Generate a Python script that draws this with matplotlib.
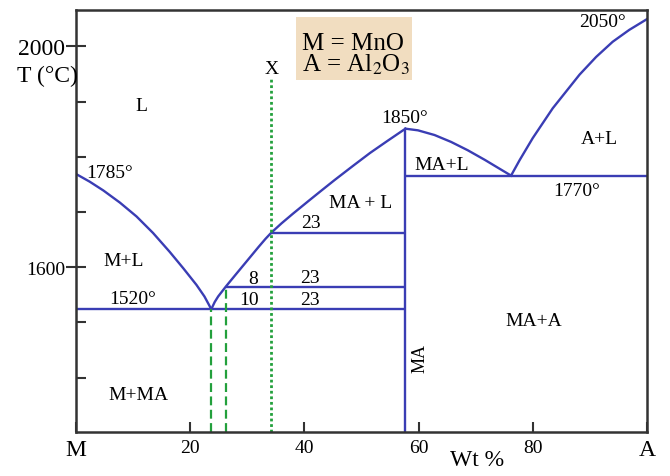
import matplotlib
matplotlib.use('Agg')
from matplotlib import pyplot as plt
from matplotlib.patches import Rectangle

plt.rcParams['font.family'] = ['Liberation Serif', 'DejaVu Serif']
plt.rcParams['mathtext.fontset'] = 'stix'

# phase boundaries: wt % Al2O3, T in degC
liq_m_x = [0, 2.4, 4.8, 7.7, 10.6, 13.5, 16.4, 18.8, 21.1, 22.5, 23.7]
liq_m_t = [1769, 1755, 1739, 1717, 1692, 1662, 1628, 1598, 1568, 1547, 1524]

liq_ma_left_x = [23.7, 24.3, 24.9, 26.25, 28, 30, 32, 33.2, 34.2, 36, 38, 40.9,
                 43, 45.3, 48.5, 51.5, 54.5, 57.7]
liq_ma_left_t = [1524, 1537, 1547, 1565, 1587, 1612, 1637, 1651.5, 1662.5, 1679.5,
                 1697, 1721.5, 1739, 1758, 1783.5, 1807, 1828.5, 1851]

liq_ma_right_x = [57.7, 59.9, 62.8, 65.7, 68.6, 71.6, 74.5, 76.2]
liq_ma_right_t = [1851, 1848, 1839.5, 1827, 1812, 1794.5, 1776.5, 1766]

liq_a_x = [76.2, 77.7, 80.0, 83.5, 88.2, 91.1, 94.0, 96.9, 100]
liq_a_t = [1766, 1794, 1834, 1888, 1949, 1981, 2008.5, 2030, 2049.5]

eut1_t = 1524
eut1_x = 23.7
eut2_t = 1766
ma_x = 57.7
tie_lo = (26.25, 1565)
tie_hi = (34.2, 1662.5)
x_top = 1944

labels = [
    ('L', 11.5, 1893), ('1785°', 5.9, 1772), ('M+L', 8.3, 1612),
    ('1520°', 10.0, 1543), ('M+MA', 10.9, 1370), ('8', 31.0, 1579),
    ('10', 30.3, 1542), ('23', 41.0, 1581), ('23', 41.0, 1541),
    ('23', 41.1, 1681), ('MA + L', 49.8, 1718), ('1850°', 57.6, 1872),
    ('MA+L', 64.0, 1787), ('1770°', 87.7, 1739), ('2050°', 92.3, 2045),
    ('A+L', 91.7, 1833), ('MA+A', 80.2, 1503), ('X', 34.2, 1960),
]

ymin, ymax = 1302, 2066
blue = '#3a3db4'
green = '#23a03c'

fig = plt.figure(figsize=(6.7, 4.77), dpi=100)
ax = fig.add_axes([0.1134, 0.0929, 0.8522, 0.884])

lw = 1.7
ax.plot(liq_m_x, liq_m_t, color=blue, lw=lw)
ax.plot(liq_ma_left_x, liq_ma_left_t, color=blue, lw=lw)
ax.plot(liq_ma_right_x, liq_ma_right_t, color=blue, lw=lw)
ax.plot(liq_a_x, liq_a_t, color=blue, lw=lw)

ax.hlines(eut1_t, 0, ma_x, color=blue, lw=lw)
ax.hlines(eut2_t, ma_x, 100, color=blue, lw=lw)
ax.hlines([tie_lo[1], tie_hi[1]], [tie_lo[0], tie_hi[0]], ma_x, color=blue, lw=lw)
ax.vlines(ma_x, ymin, liq_ma_left_t[-1], color=blue, lw=lw)

ax.vlines([eut1_x, tie_lo[0]], ymin, [eut1_t, tie_lo[1]], color=green, lw=1.6,
          linestyles=[(0, (4, 2))])
ax.vlines(tie_hi[0], ymin, x_top, color=green, lw=2, linestyles=[(0, (1, 1))])

for s, x, y in labels:
    ax.text(x, y, s, fontsize=14, ha='center', va='center')
ax.text(60.2, 1437, 'MA', fontsize=13, rotation=90, ha='center', va='center')

# key box
ax.add_patch(Rectangle((38.5, 1939.6), 20.4, 113.7, fc='#f1ddc0', ec='none', zorder=1))
ax.text(39.5, 1996, 'M = MnO', fontsize=18, ha='left', va='baseline', zorder=2)
ax.text(39.5, 1956.5, 'A = Al$_2$O$_3$', fontsize=18, ha='left', va='baseline', zorder=2)

ax.set_xlim(0, 100)
ax.set_ylim(ymin, ymax)

ax.set_xticks([0, 20, 40, 60, 80, 100])
ax.set_xticklabels(['M', '20', '40', '60', '80', 'A'])
for i, lab in enumerate(ax.get_xticklabels()):
    lab.set_fontsize(17 if i in (0, 5) else 14)
ax.tick_params(axis='x', direction='in', length=7, width=1.5, color='#333333', pad=5)

ax.set_yticks([1600, 2000])
ax.set_yticklabels(['1600', '2000'])
ax.get_yticklabels()[0].set_fontsize(14)
ax.get_yticklabels()[1].set_fontsize(17)
ax.set_yticks([1400, 1500, 1700, 1800, 1900], minor=True)
ax.tick_params(axis='y', which='major', direction='inout', length=14, width=1.5,
               color='#333333', pad=1)
ax.tick_params(axis='y', which='minor', direction='in', length=7, width=1.5,
               color='#333333')

for sp in ax.spines.values():
    sp.set_linewidth(1.8)
    sp.set_color('#333333')

ax.text(-0.05, 1947, 'T (°C)', fontsize=17, ha='center', va='center',
        transform=ax.get_yaxis_transform())
ax.text(70.3, -0.065, 'Wt %', fontsize=17, ha='center', va='center',
        transform=ax.get_xaxis_transform())

plt.savefig('out.png', dpi=100)
